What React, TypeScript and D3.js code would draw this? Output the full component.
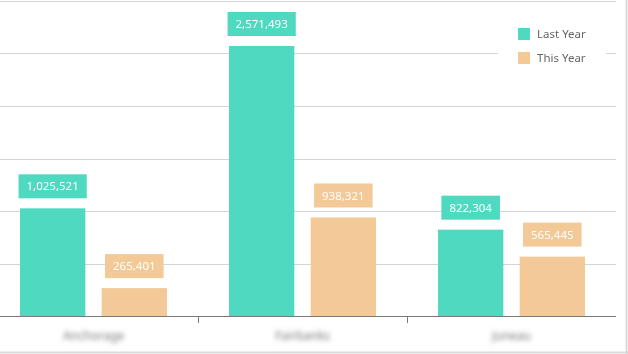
import { useEffect, useRef } from "react";
import * as d3 from "d3";

const categories = ["Anchorage", "Fairbanks", "Juneau"];
const lastYear = [1025521, 2571493, 822304];
const thisYear = [265401, 938321, 565445];
const seriesNames = ["Last Year", "This Year"];
const yTicks = [0, 500000, 1000000, 1500000, 2000000, 2500000, 3000000];

const colors = ["#50d9c1", "#f2c997"];

function App() {
  const svgRef = useRef<SVGSVGElement>(null);

  useEffect(() => {
    const width = 628;
    const height = 354;

    const svg = d3.select(svgRef.current);
    svg.selectAll("*").remove();

    const defs = svg.append("defs");
    defs
      .append("filter")
      .attr("id", "blur")
      .attr("x", "-20%")
      .attr("y", "-60%")
      .attr("width", "140%")
      .attr("height", "220%")
      .append("feGaussianBlur")
      .attr("stdDeviation", 2.4);

    // band scale runs a little past the left edge, like the cropped card
    const x0 = d3.scaleBand().domain(categories).range([-11, 616]);
    const x1 = d3
      .scaleBand()
      .domain(seriesNames)
      .range([0, 147])
      .paddingInner(0.2);
    const y = d3.scaleLinear().domain([0, 3000000]).range([316, 1]);

    // gridlines
    svg
      .append("g")
      .selectAll("line")
      .data(yTicks.slice(1))
      .enter()
      .append("line")
      .attr("x1", 0)
      .attr("x2", 616)
      .attr("y1", (d) => Math.round(y(d)) + 0.5)
      .attr("y2", (d) => Math.round(y(d)) + 0.5)
      .attr("stroke", "#d4d4d4")
      .attr("stroke-width", 1);

    const rows = categories.map((c, i) => ({
      cat: c,
      values: [lastYear[i], thisYear[i]],
    }));

    const group = svg
      .append("g")
      .selectAll("g")
      .data(rows)
      .enter()
      .append("g")
      .attr(
        "transform",
        (d) => `translate(${x0(d.cat)! + (x0.bandwidth() - 147) / 2},0)`
      );

    const bar = group
      .selectAll("g")
      .data((d) => d.values.map((v, i) => ({ v, i })))
      .enter()
      .append("g");

    bar
      .append("rect")
      .attr("x", (d) => x1(seriesNames[d.i])!)
      .attr("y", (d) => y(d.v))
      .attr("width", x1.bandwidth())
      .attr("height", (d) => y(0) - y(d.v))
      .attr("fill", (d) => colors[d.i]);

    const fmt = d3.format(",");

    bar.each(function (d) {
      const g = d3.select(this);
      const cx = x1(seriesNames[d.i])! + x1.bandwidth() / 2;
      const bottom = y(d.v) - 10;
      const text = g
        .append("text")
        .attr("x", cx)
        .attr("y", bottom - 12)
        .attr("dy", "0.35em")
        .attr("text-anchor", "middle")
        .attr("fill", "#ffffff")
        .style("font-family", "'Noto Sans', 'Open Sans', sans-serif")
        .style("font-size", "11.5px")
        .text(fmt(d.v));
      const w = (text.node() as SVGTextElement).getComputedTextLength();
      g.insert("rect", "text")
        .attr("x", cx - w / 2 - 8)
        .attr("y", bottom - 24)
        .attr("width", w + 16)
        .attr("height", 24)
        .attr("fill", colors[d.i]);
    });

    // x axis
    const axis = svg.append("g");
    axis
      .append("line")
      .attr("x1", 0)
      .attr("x2", 616)
      .attr("y1", 316.5)
      .attr("y2", 316.5)
      .attr("stroke", "#7a7a7a");

    axis
      .selectAll(".tick")
      .data(categories.slice(1))
      .enter()
      .append("line")
      .attr("x1", (d) => Math.round(x0(d)!) + 0.5)
      .attr("x2", (d) => Math.round(x0(d)!) + 0.5)
      .attr("y1", 316)
      .attr("y2", 323)
      .attr("stroke", "#7a7a7a");

    axis
      .selectAll("text")
      .data(categories)
      .enter()
      .append("text")
      .attr("x", (d) => x0(d)! + x0.bandwidth() / 2)
      .attr("y", 336)
      .attr("dy", "0.35em")
      .attr("text-anchor", "middle")
      .attr("fill", "#777")
      .attr("filter", "url(#blur)")
      .style("font-family", "'Noto Sans', 'Open Sans', sans-serif")
      .style("font-size", "12px")
      .text((d) => d);

    // legend
    const legend = svg.append("g");
    legend
      .append("rect")
      .attr("x", 498)
      .attr("y", 14)
      .attr("width", 108)
      .attr("height", 62)
      .attr("fill", "#fff");

    const item = legend
      .selectAll("g")
      .data(seriesNames)
      .enter()
      .append("g")
      .attr("transform", (d, i) => `translate(518,${28 + i * 24})`);

    item
      .append("rect")
      .attr("width", 12)
      .attr("height", 12)
      .attr("fill", (d, i) => colors[i]);

    item
      .append("text")
      .attr("x", 19)
      .attr("y", 6)
      .attr("dy", "0.35em")
      .attr("fill", "#666")
      .style("font-family", "'Noto Sans', 'Open Sans', sans-serif")
      .style("font-size", "11.5px")
      .text((d) => d);

    // card border on right and bottom
    svg
      .append("line")
      .attr("x1", 626.5)
      .attr("x2", 626.5)
      .attr("y1", 0)
      .attr("y2", height)
      .attr("stroke", "#d9d9d9")
      .attr("stroke-width", 2);
    svg
      .append("line")
      .attr("x1", 0)
      .attr("x2", width)
      .attr("y1", 352.5)
      .attr("y2", 352.5)
      .attr("stroke", "#d9d9d9")
      .attr("stroke-width", 2);
  }, []);

  return (
    <div style={{ position: "fixed", left: 0, top: 0 }}>
      <svg ref={svgRef} width={628} height={354} style={{ display: "block" }} />
    </div>
  );
}

export default App;
